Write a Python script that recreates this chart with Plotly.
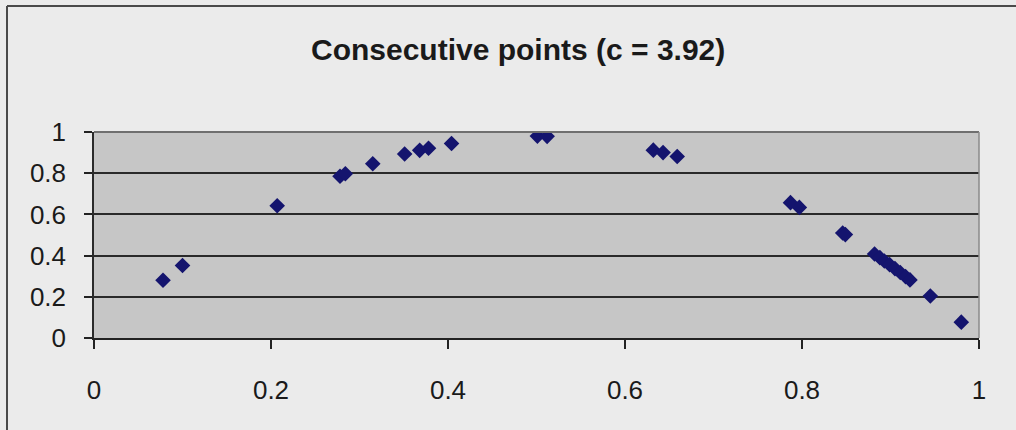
import plotly.graph_objects as go

# Successive iterates of the logistic map: x_n on the horizontal axis, x_(n+1) on the vertical
x_n = [0.078, 0.100, 0.207, 0.278, 0.284, 0.315, 0.351, 0.368, 0.378, 0.404,
       0.501, 0.512, 0.632, 0.643, 0.659, 0.787, 0.797, 0.846, 0.849, 0.882,
       0.888, 0.893, 0.899, 0.905, 0.911, 0.917, 0.922, 0.945, 0.980]
x_next = [0.280, 0.352, 0.642, 0.785, 0.797, 0.846, 0.893, 0.911, 0.921, 0.944,
          0.980, 0.979, 0.912, 0.900, 0.881, 0.657, 0.634, 0.510, 0.502, 0.408,
          0.390, 0.374, 0.356, 0.337, 0.318, 0.298, 0.282, 0.204, 0.077]

x_ticks = [0, 0.2, 0.4, 0.6, 0.8, 1]
x_tick_labels = ["0", "0.2", "0.4", "0.6", "0.8", "1"]
y_ticks = [0, 0.2, 0.4, 0.6, 0.8, 1]
y_tick_labels = ["0", "0.2", "0.4", "0.6", "0.8", "1"]

title_text = "Consecutive points (c = 3.92)"

W, H = 1016, 430
ML, MR, MT, MB = 94, 37, 132, 92
plot_w = W - ML - MR
plot_h = H - MT - MB


def px_to_paper_x(px):
    return (px - ML) / plot_w


def px_to_paper_y(py):
    return (H - MB - py) / plot_h


fig = go.Figure()
fig.add_trace(go.Scatter(
    x=x_n, y=x_next, mode="markers",
    marker=dict(symbol="diamond", size=12, color="#14146e",
                line=dict(width=0)),
    showlegend=False, hoverinfo="x+y",
))

font_family = "Liberation Sans, Arial, sans-serif"

fig.update_layout(
    width=W, height=H,
    margin=dict(l=ML, r=MR, t=MT, b=MB, pad=0),
    paper_bgcolor="#ebebeb",
    plot_bgcolor="#c6c6c6",
    font=dict(family=font_family, color="#1a1a1a"),
    title=dict(text="<b>" + title_text + "</b>", x=0.51, xanchor="center",
               y=1 - 49 / H, yanchor="middle",
               font=dict(size=30, family=font_family, color="#1a1a1a")),
    xaxis=dict(range=[0, 1], tickvals=x_ticks, ticktext=x_tick_labels,
               showgrid=False, zeroline=False,
               showline=True, linecolor="#222222", linewidth=2,
               mirror=False, ticks="outside", ticklen=9, tickwidth=1.5,
               tickcolor="#222222", ticklabelstandoff=19,
               tickfont=dict(size=26, family=font_family, color="#1a1a1a")),
    yaxis=dict(range=[0, 1], tickvals=y_ticks, ticktext=y_tick_labels,
               showgrid=True, gridcolor="#2a2a2a", gridwidth=1.5,
               zeroline=False,
               showline=True, linecolor="#2a2a2a", linewidth=1.5,
               ticks="outside", ticklen=8, tickwidth=1.5,
               tickcolor="#222222", ticklabelstandoff=13,
               tickfont=dict(size=26, family=font_family, color="#1a1a1a")),
)

# Plot-area frame (top and right edges)
fig.add_shape(type="line", xref="paper", yref="paper", x0=0, x1=1, y0=1, y1=1,
              line=dict(color="#6f6f6f", width=2), layer="above")
fig.add_shape(type="line", xref="paper", yref="paper", x0=1, x1=1, y0=0, y1=1,
              line=dict(color="#8a8a8a", width=1.5), layer="above")

# Chart border along the top and left edges
fig.add_shape(type="line", xref="paper", yref="paper",
              x0=px_to_paper_x(7), x1=px_to_paper_x(W + 2),
              y0=px_to_paper_y(6), y1=px_to_paper_y(6),
              line=dict(color="#4a4a4a", width=2))
fig.add_shape(type="line", xref="paper", yref="paper",
              x0=px_to_paper_x(7), x1=px_to_paper_x(7),
              y0=px_to_paper_y(6), y1=px_to_paper_y(H + 2),
              line=dict(color="#4a4a4a", width=2))

fig.write_html("out.html")
